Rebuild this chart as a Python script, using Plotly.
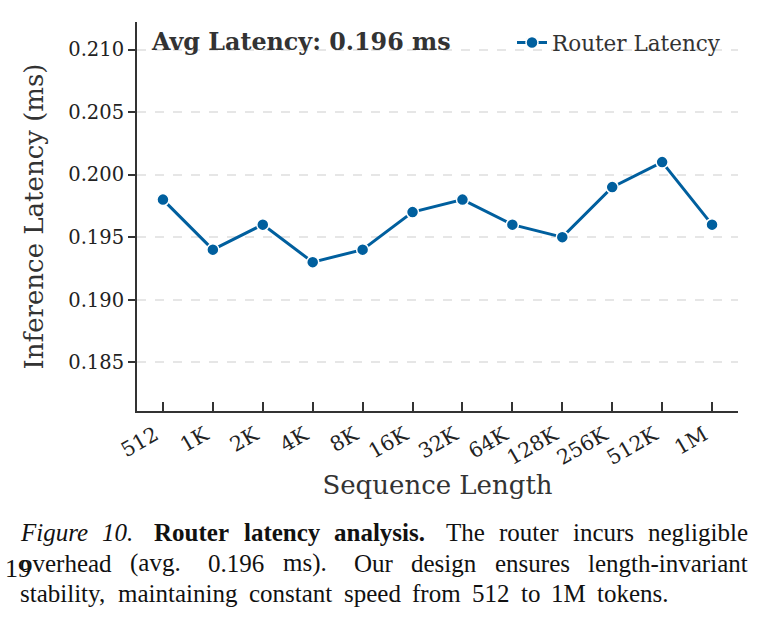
import plotly.graph_objects as go

seq_labels = ["512", "1K", "2K", "4K", "8K", "16K", "32K", "64K", "128K", "256K", "512K", "1M"]
latency_ms = [0.198, 0.194, 0.196, 0.193, 0.194, 0.197, 0.198, 0.196, 0.195, 0.199, 0.201, 0.196]
y_ticks = [0.185, 0.190, 0.195, 0.200, 0.205, 0.210]

L, R, T, B = 137, 25, 22, 212
W, H = 763, 623
pw, ph = W - L - R, H - T - B

def px(x):
    return (x - L) / pw

def py(y):
    return (H - B - y) / ph

fig = go.Figure()
fig.add_trace(go.Scatter(
    x=list(range(len(seq_labels))), y=latency_ms,
    mode="lines+markers", name="Router Latency",
    line=dict(color="#005f9e", width=3),
    marker=dict(size=12, color="#005f9e", line=dict(color="white", width=1.5)),
))

serif = "DejaVu Serif"
fig.update_layout(
    width=W, height=H,
    margin=dict(l=L, r=R, t=T, b=B),
    plot_bgcolor="white", paper_bgcolor="white",
    font=dict(family=serif, color="#222"),
    showlegend=True,
    legend=dict(x=px(726), y=1.0, xanchor="right", yanchor="top",
                bgcolor="rgba(255,255,255,0)", font=dict(size=21.5, color="#333", family=serif)),
    xaxis=dict(
        range=[-0.52, 11.52], tickmode="array",
        tickvals=list(range(len(seq_labels))), ticktext=seq_labels,
        tickangle=-30, tickfont=dict(size=20.5, family=serif, color="#222"),
        ticks="inside", ticklen=9, tickwidth=1.5, tickcolor="#333",
        ticklabelshift=-8, ticklabelstandoff=2,
        showline=True, linecolor="#333", linewidth=2, showgrid=False, zeroline=False,
        title=dict(text="Sequence Length", font=dict(size=26, family=serif, color="#333"), standoff=3),
    ),
    yaxis=dict(
        range=[0.1811, 0.2122], tickmode="array", tickvals=y_ticks,
        ticktext=[f"{v:.3f}" for v in y_ticks],
        tickfont=dict(size=19.5, family=serif, color="#222"),
        ticks="outside", ticklen=7, tickwidth=1.5, tickcolor="#333",
        showline=True, linecolor="#333", linewidth=2,
        showgrid=True, gridcolor="#e6e6e6", gridwidth=1.5, griddash="dash", zeroline=False,
        title=dict(text="Inference Latency (ms)", font=dict(size=26, family=serif, color="#333"), standoff=17),
    ),
)

fig.add_annotation(
    x=px(149), y=py(42), xref="paper", yref="paper", xanchor="left", yanchor="middle",
    text="<b>Avg Latency: 0.196 ms</b>", showarrow=False,
    font=dict(size=23.8, family=serif, color="#333"),
)

# ---- caption (Times-metric text, justified word by word) ----
CAP_SIZE = 25
reg = dict(zip("abcdefghijklmnopqrstuvwxyz",
               [444, 500, 444, 500, 444, 333, 500, 500, 278, 278, 500, 278, 778,
                500, 500, 500, 500, 333, 389, 278, 500, 500, 722, 500, 500, 444]))
reg.update({d: 500 for d in "0123456789"})
reg.update({".": 250, ",": 250, "(": 333, ")": 333, "-": 333, "M": 889, "O": 722, "T": 611})
bold = dict(reg)
bold.update({"R": 722, "u": 556, "t": 333, "r": 444, "n": 556, "a": 500})
ital = dict(reg)
ital.update({"F": 611, "r": 389})
metrics = {"r": reg, "b": bold, "i": ital}

def wwidth(word, style):
    return sum(metrics[style].get(c, 500) for c in word) / 1000 * CAP_SIZE

def wrap(word, style):
    return {"r": word, "b": f"<b>{word}</b>", "i": f"<i>{word}</i>"}[style]

caption_lines = [
    ([("Figure", "i"), ("10.", "i"), ("Router", "b"), ("latency", "b"), ("analysis.", "b"),
      ("The", "r"), ("router", "r"), ("incurs", "r"), ("negligible", "r")], 532, 746),
    ([("overhead", "r"), ("(avg.", "r"), ("0.196", "r"), ("ms).", "r"), ("Our", "r"),
      ("design", "r"), ("ensures", "r"), ("length-invariant", "r")], 563, 746),
    ([("stability,", "r"), ("maintaining", "r"), ("constant", "r"), ("speed", "r"), ("from", "r"),
      ("512", "r"), ("to", "r"), ("1M", "r"), ("tokens.", "r")], 593, 667),
]
x0 = 18
cap_font = dict(size=CAP_SIZE, family="Liberation Serif", color="#111")
for words, yy, x_end in caption_lines:
    widths = [wwidth(w, s) for w, s in words]
    weights = [1.5 if words[k][0].endswith(".") else 1.0 for k in range(len(words) - 1)]
    unit = (x_end - x0 - sum(widths)) / sum(weights)
    xx = x0
    for k, ((w, s), wd) in enumerate(zip(words, widths)):
        fig.add_annotation(x=px(xx), y=py(yy), xref="paper", yref="paper",
                           xanchor="left", yanchor="middle", text=wrap(w, s), showarrow=False,
                           font=cap_font)
        if k < len(weights):
            xx += wd + unit * weights[k]

fig.add_annotation(x=px(3), y=py(568), xref="paper", yref="paper",
                   xanchor="left", yanchor="middle", text="19", showarrow=False,
                   font=dict(size=26, family="Liberation Serif", color="#111"))

fig.write_html("out.html")
